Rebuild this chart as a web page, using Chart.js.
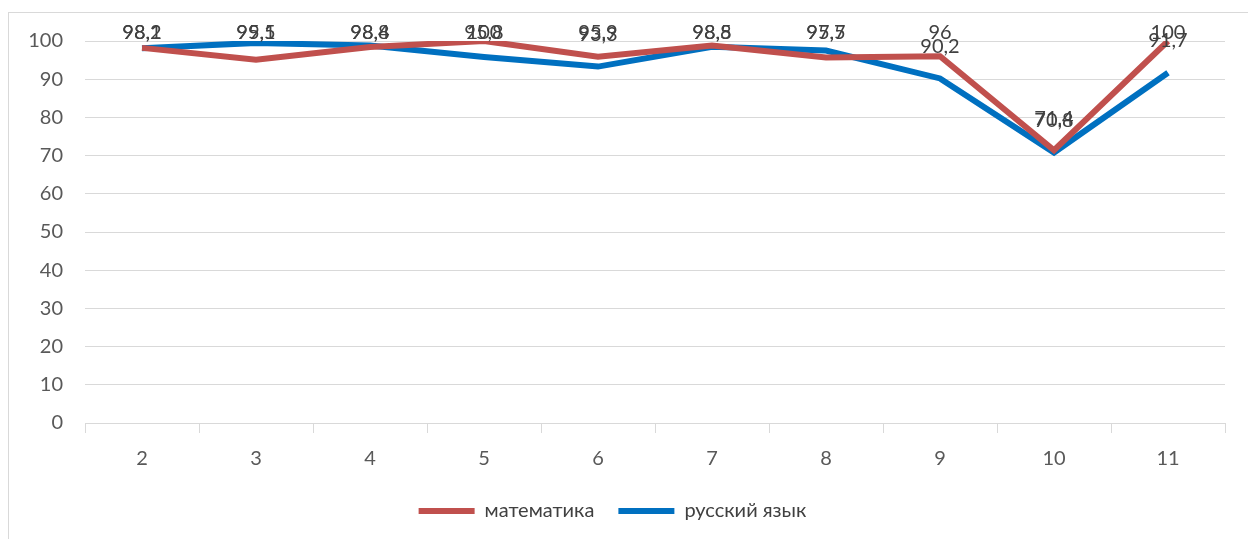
<!DOCTYPE html>
<html>
<head>
<meta charset="utf-8">
<script src="https://cdn.jsdelivr.net/npm/chart.js@4.4.0/dist/chart.umd.min.js"></script>
<style>
  html, body { margin: 0; padding: 0; background: #fff; overflow: hidden; }
  #frame { position: absolute; left: 8px; top: 12px; width: 1400px; height: 700px; border: 1px solid #d9d9d9; }
  #wrap { position: absolute; left: 0; top: 0; width: 1248px; height: 539px; }
</style>
</head>
<body>
<div id="frame"></div>
<div id="wrap"><canvas id="gradesChart"></canvas></div>
<script>
// классы и проценты
const classes = ['2', '3', '4', '5', '6', '7', '8', '9', '10', '11'];
const mathValues = [98.2, 95.1, 98.4, 100, 95.9, 98.8, 95.7, 96, 71.4, 100];
const russianValues = [98.1, 99.5, 98.8, 95.8, 93.3, 98.5, 97.5, 90.2, 70.8, 91.7];
const yTicks = [0, 10, 20, 30, 40, 50, 60, 70, 80, 90, 100];

const fontName = 'Lato, "Liberation Sans", sans-serif';
const fontSize = 20;

// подписи значений над точками (как в Excel — не выше верхней границы)
const valueLabels = {
    id: 'valueLabels',
    afterDatasetsDraw(chart) {
        const ctx = chart.ctx;
        ctx.save();
        ctx.font = fontSize + 'px ' + fontName;
        ctx.fillStyle = '#404040';
        ctx.textAlign = 'center';
        ctx.textBaseline = 'middle';
        chart.data.datasets.forEach((ds, i) => {
            chart.getDatasetMeta(i).data.forEach((pt, j) => {
                const txt = String(ds.data[j]).replace('.', ',');
                const y = Math.max(pt.y - 32, chart.chartArea.top - 8);
                ctx.fillText(txt, pt.x, y);
            });
        });
        ctx.restore();
    }
};

new Chart(document.getElementById('gradesChart'), {
    type: 'line',
    data: {
        labels: classes,
        datasets: [{
            label: 'математика',
            data: mathValues,
            borderColor: '#C0504D',
            backgroundColor: '#C0504D',
            borderWidth: 6,
            pointRadius: 0,
            tension: 0
        }, {
            label: 'русский язык',
            data: russianValues,
            borderColor: '#0070C0',
            backgroundColor: '#0070C0',
            borderWidth: 6,
            pointRadius: 0,
            tension: 0
        }]
    },
    options: {
        responsive: true,
        maintainAspectRatio: false,
        animation: false,
        layout: { padding: { left: 0, top: 41, right: 23, bottom: 8 } },
        scales: {
            x: {
                offset: true,
                grid: { display: true, drawOnChartArea: false, offset: true, tickLength: 10, color: '#d9d9d9' },
                border: { color: '#d9d9d9' },
                ticks: { color: '#595959', font: { family: fontName, size: fontSize }, padding: 14 },
                afterFit(scale) { scale.height = 54; }
            },
            y: {
                min: 0,
                max: 100,
                afterBuildTicks(scale) { scale.ticks = yTicks.map(v => ({ value: v })); },
                grid: { color: '#d9d9d9', drawTicks: false },
                border: { display: false },
                ticks: { color: '#595959', font: { family: fontName, size: fontSize }, padding: 22 },
                afterFit(scale) { scale.width = 85; }
            }
        },
        plugins: {
            legend: {
                position: 'bottom',
                labels: {
                    usePointStyle: true,
                    pointStyle: 'line',
                    pointStyleWidth: 56,
                    boxHeight: 18,
                    color: '#404040',
                    font: { family: fontName, size: fontSize },
                    padding: 24
                }
            },
            tooltip: { enabled: false }
        }
    },
    plugins: [valueLabels]
});
</script>
</body>
</html>
